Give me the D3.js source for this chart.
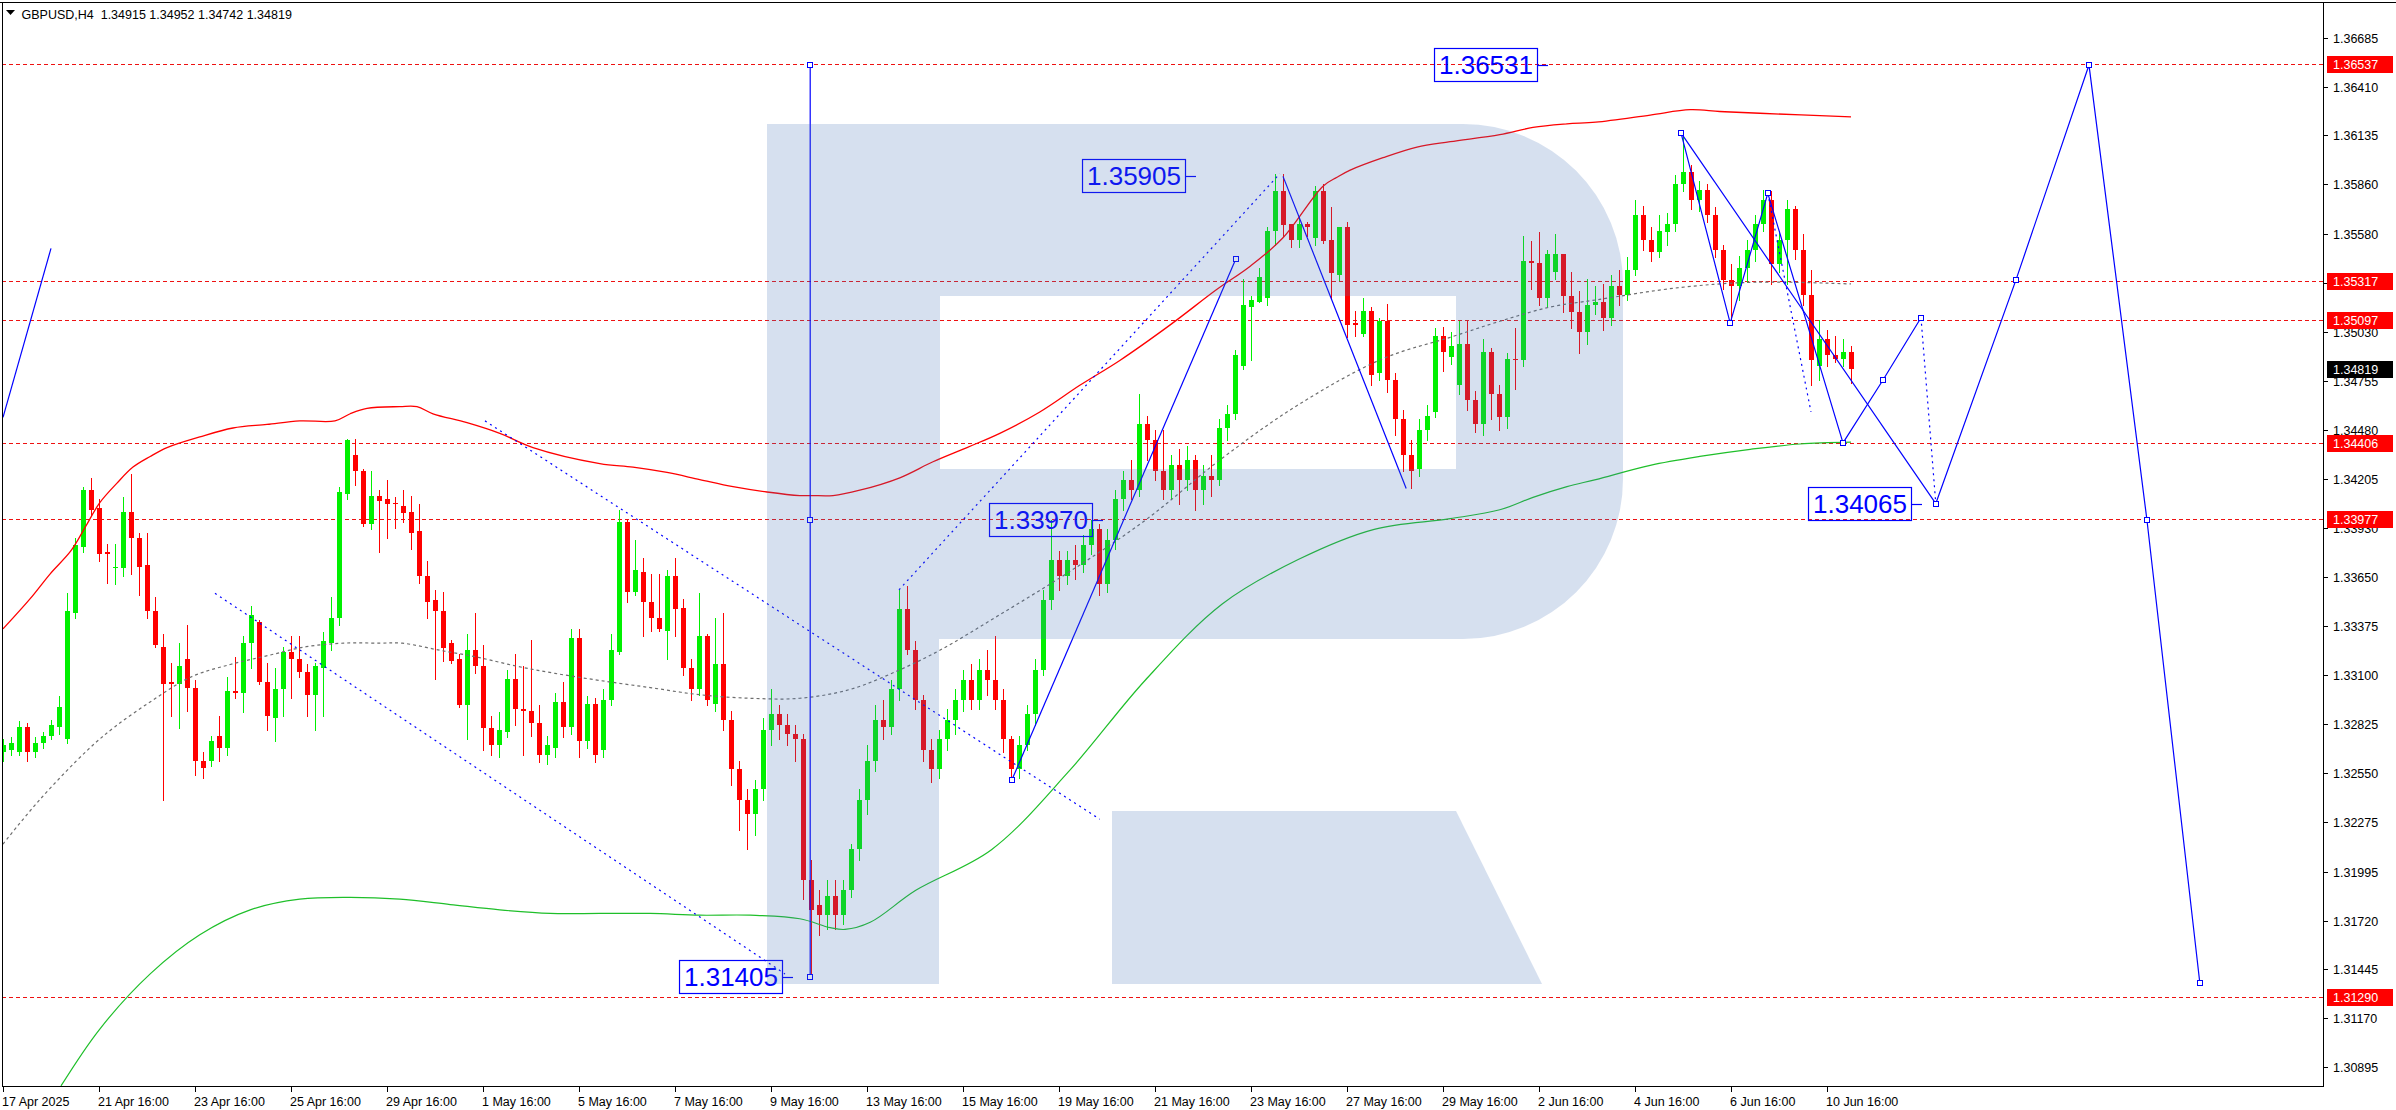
<!DOCTYPE html>
<html><head><meta charset="utf-8">
<script src="https://cdn.jsdelivr.net/npm/d3@7/dist/d3.min.js"></script>
<style>
html,body{margin:0;padding:0;background:#fff;}
svg{display:block;font-family:"Liberation Sans",Arial,sans-serif;}
</style></head><body>
<svg id="chart" width="2396" height="1110"></svg>
<script>
// ---------------- DATA ----------------
const symbolName = "GBPUSD,H4";
const headerOHLC = ["1.34915", "1.34952", "1.34742", "1.34819"];

const timeLabels = ["17 Apr 2025","21 Apr 16:00","23 Apr 16:00","25 Apr 16:00","29 Apr 16:00","1 May 16:00",
  "5 May 16:00","7 May 16:00","9 May 16:00","13 May 16:00","15 May 16:00","19 May 16:00","21 May 16:00",
  "23 May 16:00","27 May 16:00","29 May 16:00","2 Jun 16:00","4 Jun 16:00","6 Jun 16:00","10 Jun 16:00"];
const timeLabelBars = [0,12,24,36,48,60,72,84,96,108,120,132,144,156,168,180,192,204,216,228];

const priceTicks = ["1.36685","1.36410","1.36135","1.35860","1.35580","1.35305","1.35030","1.34755","1.34480",
  "1.34205","1.33930","1.33650","1.33375","1.33100","1.32825","1.32550","1.32275","1.31995","1.31720",
  "1.31445","1.31170","1.30895"];

const levelLines = [1.36537, 1.35317, 1.35097, 1.34406, 1.33977, 1.31290];
const currentPrice = 1.34819;

// OHLC per H4 bar
const ohlc = [
[1.3267,1.3274,1.3262,1.3271],[1.3268,1.3275,1.3265,1.3272],[1.3267,1.3284,1.3265,1.3281],[1.3281,1.3283,1.3262,1.3267],
[1.3267,1.3275,1.3264,1.3272],[1.3272,1.3278,1.3269,1.3276],[1.3276,1.3285,1.3274,1.3282],[1.3281,1.3298,1.3277,1.3292],
[1.3274,1.3356,1.3272,1.3346],[1.3345,1.3387,1.3342,1.3383],[1.3382,1.3416,1.3379,1.3414],[1.3414,1.3421,1.3400,1.3403],
[1.3404,1.3409,1.3374,1.3378],[1.3379,1.3384,1.3362,1.3378],[1.3370,1.3384,1.3361,1.3371],[1.3370,1.3410,1.3366,1.3402],
[1.3402,1.3423,1.3367,1.3387],[1.3387,1.3390,1.3355,1.3371],[1.3372,1.3390,1.3342,1.3346],[1.3346,1.3354,1.3326,1.3327],
[1.3326,1.3333,1.3240,1.3305],[1.3306,1.3317,1.3287,1.3305],[1.3305,1.3328,1.3280,1.3315],[1.3319,1.3338,1.3290,1.3303],
[1.3303,1.3307,1.3254,1.3262],[1.3262,1.3267,1.3252,1.3258],[1.3262,1.3276,1.3259,1.3273],[1.3276,1.3287,1.3262,1.3269],
[1.3269,1.3309,1.3265,1.3301],[1.3301,1.3320,1.3297,1.3300],[1.3300,1.3332,1.3289,1.3328],[1.3328,1.3349,1.3314,1.3344],
[1.3340,1.3341,1.3305,1.3306],[1.3306,1.3317,1.3279,1.3287],[1.3286,1.3314,1.3273,1.3302],[1.3302,1.3326,1.3287,1.3323],
[1.3323,1.3332,1.3297,1.3319],[1.3319,1.3332,1.3309,1.3312],[1.3312,1.3316,1.3287,1.3299],[1.3299,1.3317,1.3279,1.3315],
[1.3314,1.3334,1.3287,1.3329],[1.3328,1.3354,1.3324,1.3342],[1.3342,1.3416,1.3338,1.3413],[1.3412,1.3443,1.3409,1.3442],
[1.3434,1.3443,1.3417,1.3425],[1.3425,1.3426,1.3394,1.3395],[1.3395,1.3425,1.3392,1.3411],[1.3411,1.3414,1.3379,1.3408],
[1.3409,1.3420,1.3387,1.3406],[1.3407,1.3410,1.3393,1.3406],[1.3405,1.3414,1.3396,1.3401],[1.3402,1.3411,1.3381,1.3390],
[1.3391,1.3406,1.3362,1.3366],[1.3366,1.3374,1.3342,1.3351],[1.3352,1.3358,1.3308,1.3346],[1.3346,1.3357,1.3318,1.3325],
[1.3328,1.3330,1.3317,1.3318],[1.3319,1.3322,1.3292,1.3293],[1.3293,1.3333,1.3274,1.3324],[1.3324,1.3345,1.3311,1.3315],
[1.3315,1.3327,1.3268,1.3280],[1.3280,1.3287,1.3265,1.3271],[1.3271,1.3289,1.3264,1.3279],[1.3278,1.3313,1.3275,1.3308],
[1.3308,1.3322,1.3282,1.3291],[1.3291,1.3315,1.3265,1.3290],[1.3290,1.3330,1.3276,1.3283],[1.3283,1.3293,1.3261,1.3265],
[1.3265,1.3276,1.3260,1.3271],[1.3269,1.3300,1.3264,1.3295],[1.3295,1.3306,1.3275,1.3281],[1.3281,1.3336,1.3277,1.3331],
[1.3331,1.3336,1.3264,1.3273],[1.3273,1.3298,1.3269,1.3294],[1.3294,1.3297,1.3261,1.3265],[1.3268,1.3302,1.3264,1.3296],
[1.3296,1.3333,1.3293,1.3324],[1.3323,1.3403,1.3322,1.3396],[1.3396,1.3397,1.3351,1.3357],[1.3357,1.3386,1.3355,1.3369],
[1.3368,1.3376,1.3332,1.3351],[1.3351,1.3367,1.3335,1.3342],[1.3342,1.3367,1.3335,1.3336],[1.3335,1.3369,1.3319,1.3366],
[1.3366,1.3376,1.3332,1.3347],[1.3348,1.3353,1.3310,1.3314],[1.3314,1.3319,1.3296,1.3302],[1.3302,1.3356,1.3299,1.3332],
[1.3332,1.3333,1.3293,1.3296],[1.3294,1.3342,1.3290,1.3316],[1.3316,1.3345,1.3279,1.3285],[1.3285,1.3290,1.3248,1.3257],
[1.3257,1.3262,1.3223,1.3240],[1.3240,1.3246,1.3212,1.3232],[1.3232,1.3251,1.3220,1.3246],[1.3246,1.3286,1.3240,1.3279],
[1.3279,1.3302,1.3271,1.3288],[1.3288,1.3293,1.3274,1.3282],[1.3282,1.3288,1.3271,1.3277],[1.3277,1.3282,1.3262,1.3274],
[1.3274,1.3277,1.3184,1.3195],[1.3195,1.3206,1.3140,1.3178],[1.3181,1.3189,1.3164,1.3175],[1.3175,1.3195,1.3167,1.3186],
[1.3186,1.3195,1.3167,1.3175],[1.3175,1.3195,1.3170,1.3189],[1.3189,1.3215,1.3185,1.3212],[1.3212,1.3246,1.3206,1.3240],
[1.3240,1.3271,1.3232,1.3262],[1.3262,1.3293,1.3256,1.3285],[1.3285,1.3296,1.3274,1.3281],[1.3281,1.3307,1.3277,1.3302],
[1.3302,1.3358,1.3296,1.3347],[1.3347,1.3360,1.3322,1.3324],[1.3324,1.3329,1.3291,1.3296],[1.3296,1.3299,1.3262,1.3268],
[1.3268,1.3274,1.3250,1.3257],[1.3257,1.3279,1.3252,1.3274],[1.3274,1.3291,1.3268,1.3285],[1.3285,1.3302,1.3277,1.3296],
[1.3296,1.3313,1.3290,1.3307],[1.3307,1.3316,1.3291,1.3296],[1.3296,1.3319,1.3291,1.3313],[1.3313,1.3324,1.3299,1.3307],
[1.3307,1.3332,1.3291,1.3296],[1.3296,1.3302,1.3267,1.3274],[1.3274,1.3276,1.3250,1.3257],[1.3257,1.3276,1.3252,1.3271],
[1.3271,1.3293,1.3268,1.3288],[1.3288,1.3319,1.3282,1.3313],[1.3313,1.3358,1.3310,1.3352],[1.3352,1.3397,1.3347,1.3375],
[1.3375,1.3380,1.3358,1.3366],[1.3366,1.3380,1.3361,1.3375],[1.3375,1.3383,1.3364,1.3372],[1.3372,1.3389,1.3368,1.3383],
[1.3383,1.3397,1.3378,1.3392],[1.3392,1.3395,1.3355,1.3361],[1.3361,1.3392,1.3357,1.3386],[1.3386,1.3414,1.3381,1.3409],
[1.3409,1.3425,1.3403,1.3420],[1.3420,1.3431,1.3409,1.3414],[1.3414,1.3468,1.3411,1.3451],[1.3451,1.3456,1.3431,1.3442],
[1.3442,1.3448,1.3420,1.3425],[1.3425,1.3448,1.3409,1.3414],[1.3414,1.3434,1.3409,1.3428],[1.3428,1.3437,1.3406,1.3420],
[1.3420,1.3439,1.3414,1.3431],[1.3431,1.3434,1.3403,1.3414],[1.3414,1.3428,1.3406,1.3422],[1.3422,1.3434,1.3411,1.3420],
[1.3420,1.3454,1.3417,1.3449],[1.3449,1.3462,1.3442,1.3457],[1.3457,1.3493,1.3454,1.3490],[1.3484,1.3533,1.3482,1.3518],
[1.3517,1.3523,1.3487,1.3521],[1.3520,1.3539,1.3520,1.3534],[1.3522,1.3562,1.3518,1.3560],[1.3560,1.3592,1.3552,1.3582],
[1.3582,1.3592,1.3557,1.3563],[1.3564,1.3564,1.3551,1.3555],[1.3555,1.3568,1.3551,1.3564],[1.3564,1.3565,1.3557,1.3562],
[1.3556,1.3585,1.3552,1.3582],[1.3582,1.3586,1.3553,1.3554],[1.3555,1.3573,1.3522,1.3536],[1.3535,1.3562,1.3532,1.3562],
[1.3562,1.3565,1.3500,1.3507],[1.3508,1.3515,1.3501,1.3507],[1.3502,1.3522,1.3501,1.3515],[1.3515,1.3517,1.3473,1.3479],
[1.3480,1.3511,1.3476,1.3509],[1.3509,1.3519,1.3469,1.3476],[1.3476,1.3480,1.3445,1.3454],[1.3454,1.3459,1.3425,1.3434],
[1.3434,1.3442,1.3415,1.3425],[1.3426,1.3454,1.3422,1.3448],[1.3448,1.3462,1.3442,1.3456],[1.3458,1.3505,1.3455,1.3501],
[1.3501,1.3506,1.3481,1.3492],[1.3489,1.3503,1.3485,1.3495],[1.3473,1.3509,1.3468,1.3496],[1.3496,1.3509,1.3459,1.3465],
[1.3465,1.3470,1.3447,1.3451],[1.3451,1.3499,1.3445,1.3492],[1.3492,1.3494,1.3454,1.3468],[1.3468,1.3473,1.3448,1.3455],
[1.3455,1.3491,1.3449,1.3488],[1.3488,1.3505,1.3471,1.3487],[1.3487,1.3557,1.3484,1.3543],[1.3543,1.3554,1.3527,1.3542],
[1.3542,1.3559,1.3518,1.3522],[1.3522,1.3549,1.3517,1.3547],[1.3537,1.3558,1.3533,1.3547],[1.3547,1.3547,1.3514,1.3523],
[1.3523,1.3537,1.3505,1.3514],[1.3514,1.3526,1.3491,1.3503],[1.3503,1.3533,1.3496,1.3518],[1.3518,1.3529,1.3513,1.3520],
[1.3520,1.3530,1.3504,1.3511],[1.3511,1.3535,1.3507,1.3529],[1.3529,1.3538,1.3518,1.3524],[1.3524,1.3545,1.3521,1.3538],
[1.3538,1.3577,1.3535,1.3569],[1.3569,1.3574,1.3549,1.3555],[1.3555,1.3562,1.3543,1.3548],[1.3548,1.3569,1.3545,1.3560],
[1.3559,1.3570,1.3552,1.3564],[1.3564,1.3591,1.3560,1.3586],[1.3586,1.3615,1.3582,1.3593],[1.3593,1.3597,1.3572,1.3577],
[1.3577,1.3588,1.3571,1.3583],[1.3583,1.3586,1.3565,1.3569],[1.3569,1.3573,1.3545,1.3549],[1.3549,1.3552,1.3527,1.3532],
[1.3532,1.3541,1.3508,1.3529],[1.3529,1.3546,1.3521,1.3539],[1.3539,1.3555,1.3531,1.3549],[1.3549,1.3569,1.3543,1.3564],
[1.3564,1.3583,1.3560,1.3577],[1.3577,1.3582,1.3530,1.3541],[1.3541,1.3560,1.3537,1.3555],[1.3555,1.3577,1.3530,1.3572],
[1.3572,1.3574,1.3544,1.3549],[1.3549,1.3558,1.3518,1.3524],[1.3524,1.3538,1.3473,1.3487],[1.3484,1.3510,1.3476,1.3499],
[1.3499,1.3504,1.3484,1.3490],[1.3490,1.3501,1.3486,1.3488],[1.3488,1.3499,1.3484,1.3492],[1.34915,1.34952,1.34742,1.34819]
];

// moving averages: [bar index, price]
const maRed = [[0,1.3336],[3.4,1.3353],[5.9,1.3367],[8.5,1.3380],[10.25,1.3393],[12.1,1.3407],[14.25,1.3418],
 [16.25,1.3427],[18.4,1.3433],[20.5,1.3438],[24.6,1.3444],[28.75,1.3449],[33,1.3451],[37.1,1.3453],[41.5,1.3453],
 [43.4,1.3457],[45.5,1.3460],[49.6,1.3461],[51.75,1.3461],[53.75,1.3457],[58,1.3452],[62.1,1.3446],[66.25,1.3438],
 [74.6,1.3429],[78.75,1.3427],[83,1.3424],[87.1,1.3420],[91.25,1.3416],[95.5,1.3413],[99.6,1.3411],[101.1,1.3411],
 [103.75,1.3411],[107.1,1.3414],[112.1,1.3421],[116.25,1.3430],[120.5,1.3438],[124.6,1.3446],[129.6,1.3458],
 [134.6,1.3473],[139.6,1.3487],[145.9,1.3507],[151.75,1.3527],[155.9,1.3540],[160,1.3556],[165,1.3585],
 [166.75,1.3590],[168.4,1.3594],[172.5,1.3601],[176.75,1.3607],[180.9,1.3610],[187.1,1.3614],[191.25,1.3618],
 [195.5,1.3620],[199.1,1.3621],[205.9,1.3625],[210.9,1.3628],[214.6,1.3627],[219.6,1.3626],[231,1.3624]];
const maGreen = [[7.25,1.3079],[12.1,1.3111],[18.4,1.3142],[24.6,1.3164],[30.9,1.3178],[37.1,1.3184],[43.4,1.3185],
 [49.6,1.3184],[55.9,1.3181],[62.1,1.3178],[68.4,1.3176],[74.6,1.3176],[80.9,1.3176],[87.1,1.3175],[93.4,1.3175],
 [99.6,1.3173],[103.4,1.3168],[105.25,1.3167],[108.4,1.3171],[114.1,1.3189],[123.6,1.3212],[133.25,1.3256],
 [142.75,1.3307],[152.4,1.3350],[161.9,1.3375],[171.4,1.3392],[180.9,1.3398],[187.1,1.3403],[191.25,1.3410],
 [195.5,1.3416],[199.1,1.3420],[205.9,1.3428],[212.1,1.3433],[218.4,1.3437],[224.6,1.3440],[231,1.3441]];
const maGray = [[0,1.3215],[4.6,1.3240],[10.6,1.3268],[14,1.3281],[18.75,1.3296],[23.5,1.3309],[28.4,1.3316],
 [33.1,1.3321],[37.9,1.3326],[42.6,1.3328],[47.1,1.3328],[49.9,1.3328],[54.6,1.3324],[59.4,1.3320],[64.25,1.3315],
 [69,1.3311],[74.6,1.3307],[80.9,1.3303],[87.1,1.3299],[93.4,1.3297],[99.6,1.3297],[105.9,1.3302],[112.1,1.3313],
 [117.1,1.3324],[124.6,1.3344],[133.25,1.3368],[142.75,1.3397],[152.4,1.3432],[161.9,1.3462],[172.5,1.3488],
 [180.9,1.3500],[187.1,1.3509],[193.4,1.3517],[199.1,1.3521],[209.6,1.3528],[219.1,1.3531],[231,1.3530]];

// analysis objects: [bar, price]
const solidLines = [
  [[0,1.3455],[6,1.3550]],
  [[100.9,1.36531],[100.9,1.31405]],
  [[126.1,1.3251],[154.1,1.3544]],
  [[160,1.35905],[175.4,1.3415]]
];
const dottedLines = [
  [[60.25,1.3453],[137.1,1.3229]],
  [[26.5,1.3356],[97.75,1.3142]],
  [[112,1.3358],[159.6,1.3592]]
];
const forecastSolid = [
  [[209.75,1.3615],[215.9,1.3508],[220.6,1.3581],[230,1.34406]],
  [[209.75,1.3615],[241.6,1.34065]],
  [[230,1.34406],[235,1.3476],[239.75,1.3511]],
  [[241.6,1.34065],[251.6,1.3532],[260.75,1.36531],[268,1.3397],[274.6,1.3137]]
];
const forecastDotted = [
  [[239.75,1.3511],[241.6,1.34065]],
  [[220.6,1.3581],[226,1.3458]]
];
const anchorPoints = [[100.9,1.36531],[100.9,1.33970],[100.9,1.31405],[126.1,1.3251],[154.1,1.3544],
  [209.75,1.3615],[215.9,1.3508],[220.6,1.3581],[230,1.34406],[235,1.3476],[239.75,1.3511],[241.6,1.34065],
  [251.6,1.3532],[260.75,1.36531],[268,1.3397],[274.6,1.3137]];
const priceLabels = [
  {text:"1.36531", value:1.36531, bar:191.9},
  {text:"1.35905", value:1.35905, bar:147.9},
  {text:"1.33970", value:1.33970, bar:136.25},
  {text:"1.31405", value:1.31405, bar:97.5},
  {text:"1.34065", value:1.34065, bar:238.6}
];

// ---------------- LAYOUT ----------------
const W = 2396, H = 1110;
const P = {left: 2, top: 2, right: 2323, bottom: 1086};
const svg = d3.select('#chart');

const x = d3.scaleLinear().domain([0, 290]).range([3, 3 + 8 * 290]);
const y = d3.scaleLinear().domain([1.36537, 1.31290]).range([64, 997]);

svg.append('rect').attr('width', W).attr('height', H).attr('fill', '#fff');
svg.append('defs').append('clipPath').attr('id', 'pc').append('rect')
  .attr('x', P.left).attr('y', P.top).attr('width', P.right - P.left).attr('height', P.bottom - P.top);
const plot = svg.append('g').attr('clip-path', 'url(#pc)');

const BLUE = '#0000ff', RED = '#ff0000', GREEN = '#00f000';

// horizontal levels
plot.append('g').attr('shape-rendering', 'crispEdges').selectAll('line').data(levelLines).join('line')
  .attr('x1', P.left).attr('x2', P.right)
  .attr('y1', d => Math.round(y(d)) + 0.5).attr('y2', d => Math.round(y(d)) + 0.5)
  .attr('stroke', '#ee1111').attr('stroke-width', 1).attr('stroke-dasharray', '4,3');

// candles
const gc = plot.append('g').attr('shape-rendering', 'crispEdges');
ohlc.forEach((d, i) => {
  const [o, h, l, c] = d;
  const col = c >= o ? GREEN : RED;
  const cx = Math.round(x(i));
  gc.append('line').attr('x1', cx + 0.5).attr('x2', cx + 0.5)
    .attr('y1', Math.round(y(h))).attr('y2', Math.round(y(l)) + 1).attr('stroke', col);
  const yt = Math.round(y(Math.max(o, c))), yb = Math.round(y(Math.min(o, c)));
  gc.append('rect').attr('x', cx - 2).attr('y', yt).attr('width', 5)
    .attr('height', Math.max(1, yb - yt)).attr('fill', col);
});

// moving averages
const maLine = d3.line().x(d => x(d[0])).y(d => y(d[1])).curve(d3.curveCatmullRom.alpha(0.5));
plot.append('path').attr('d', maLine(maGray)).attr('fill', 'none').attr('stroke', '#6e6e6e')
  .attr('stroke-width', 1.2).attr('stroke-dasharray', '3,3');
plot.append('path').attr('d', maLine(maRed)).attr('fill', 'none').attr('stroke', RED).attr('stroke-width', 1.3);
plot.append('path').attr('d', maLine(maGreen)).attr('fill', 'none').attr('stroke', '#1fbf2a').attr('stroke-width', 1.2);

// analysis lines
const seg = d3.line().x(d => x(d[0])).y(d => y(d[1]));
const ga = plot.append('g');
solidLines.concat(forecastSolid).forEach(s => ga.append('path').attr('d', seg(s)).attr('fill', 'none')
  .attr('stroke', BLUE).attr('stroke-width', 1.2));
dottedLines.concat(forecastDotted).forEach(s => ga.append('path').attr('d', seg(s)).attr('fill', 'none')
  .attr('stroke', BLUE).attr('stroke-width', 1.2).attr('stroke-dasharray', '2,4'));
ga.selectAll('rect.anc').data(anchorPoints).join('rect').attr('class', 'anc')
  .attr('x', d => Math.round(x(d[0])) - 2.5).attr('y', d => Math.round(y(d[1])) - 2.5)
  .attr('width', 5).attr('height', 5).attr('fill', '#fff').attr('stroke', BLUE).attr('stroke-width', 1);

// value labels
priceLabels.forEach(L => {
  const right = Math.round(x(L.bar)), cy = Math.round(y(L.value));
  const t = ga.append('text').attr('x', right - 5).attr('y', cy).attr('dy', '0.36em')
    .attr('text-anchor', 'end').attr('font-size', 26).attr('fill', BLUE).text(L.text);
  const bb = t.node().getBBox();
  ga.append('rect').attr('x', right - bb.width - 9.5).attr('y', cy - 16.5).attr('width', bb.width + 9)
    .attr('height', 33).attr('fill', 'none').attr('stroke', BLUE).attr('stroke-width', 1.2);
  ga.append('line').attr('x1', right).attr('x2', right + 10).attr('y1', cy + 0.5).attr('y2', cy + 0.5)
    .attr('stroke', BLUE).attr('stroke-width', 1.2);
});

// watermark logo (overlay)
const logo = plot.append('g').attr('fill', 'rgb(70,115,180)').attr('fill-opacity', 0.22);
logo.append('path').attr('fill-rule', 'evenodd')
  .attr('d', 'M767,124 H1463 A160,160 0 0 1 1623,284 V479 A160,160 0 0 1 1463,639 H767 Z M940,296 H1456 V469 H940 Z');
logo.append('rect').attr('x', 767).attr('y', 639).attr('width', 172).attr('height', 345);
logo.append('path').attr('d', 'M1112,811 L1456,811 L1542,984 L1112,984 Z');

// frame
const fr = svg.append('g').attr('shape-rendering', 'crispEdges').attr('stroke', '#000');
fr.append('line').attr('x1', 0).attr('x2', W).attr('y1', 2.5).attr('y2', 2.5);
fr.append('line').attr('x1', 2.5).attr('x2', 2.5).attr('y1', 2).attr('y2', P.bottom);
fr.append('line').attr('x1', P.right + 0.5).attr('x2', P.right + 0.5).attr('y1', 2).attr('y2', P.bottom);
fr.append('line').attr('x1', 2).attr('x2', P.right + 1).attr('y1', P.bottom + 0.5).attr('y2', P.bottom + 0.5);

// price axis
const ax = svg.append('g').attr('font-size', 12.5).attr('fill', '#000');
priceTicks.forEach(s => {
  const yy = Math.round(y(+s)) + 0.5;
  fr.append('line').attr('x1', P.right).attr('x2', P.right + 5).attr('y1', yy).attr('y2', yy);
  ax.append('text').attr('x', P.right + 10).attr('y', yy).attr('dy', '0.35em').text(s);
});
// level labels on the axis
levelLines.concat([currentPrice]).forEach((v, i) => {
  const yy = Math.round(y(v));
  const isCur = i === levelLines.length;
  ax.append('rect').attr('x', P.right + 4).attr('y', yy - 8).attr('width', 66).attr('height', 17)
    .attr('fill', isCur ? '#000' : RED);
  ax.append('text').attr('x', P.right + 10).attr('y', yy + 0.5).attr('dy', '0.35em').attr('fill', '#fff')
    .text(v.toFixed(5));
});

// time axis
timeLabels.forEach((s, i) => {
  const xx = Math.round(x(timeLabelBars[i])) + 0.5;
  fr.append('line').attr('x1', xx).attr('x2', xx).attr('y1', P.bottom).attr('y2', P.bottom + 6);
  ax.append('text').attr('x', xx - 1.5).attr('y', P.bottom + 16).attr('dy', '0.35em').text(s);
});

// header
svg.append('path').attr('d', 'M6,10 L15,10 L10.5,15 Z').attr('fill', '#000');
svg.append('text').attr('x', 21.5).attr('y', 18.5).attr('font-size', 12.5).attr('fill', '#000')
  .attr('xml:space', 'preserve').text(symbolName + '  ' + headerOHLC.join(' '));
</script>
</body></html>
